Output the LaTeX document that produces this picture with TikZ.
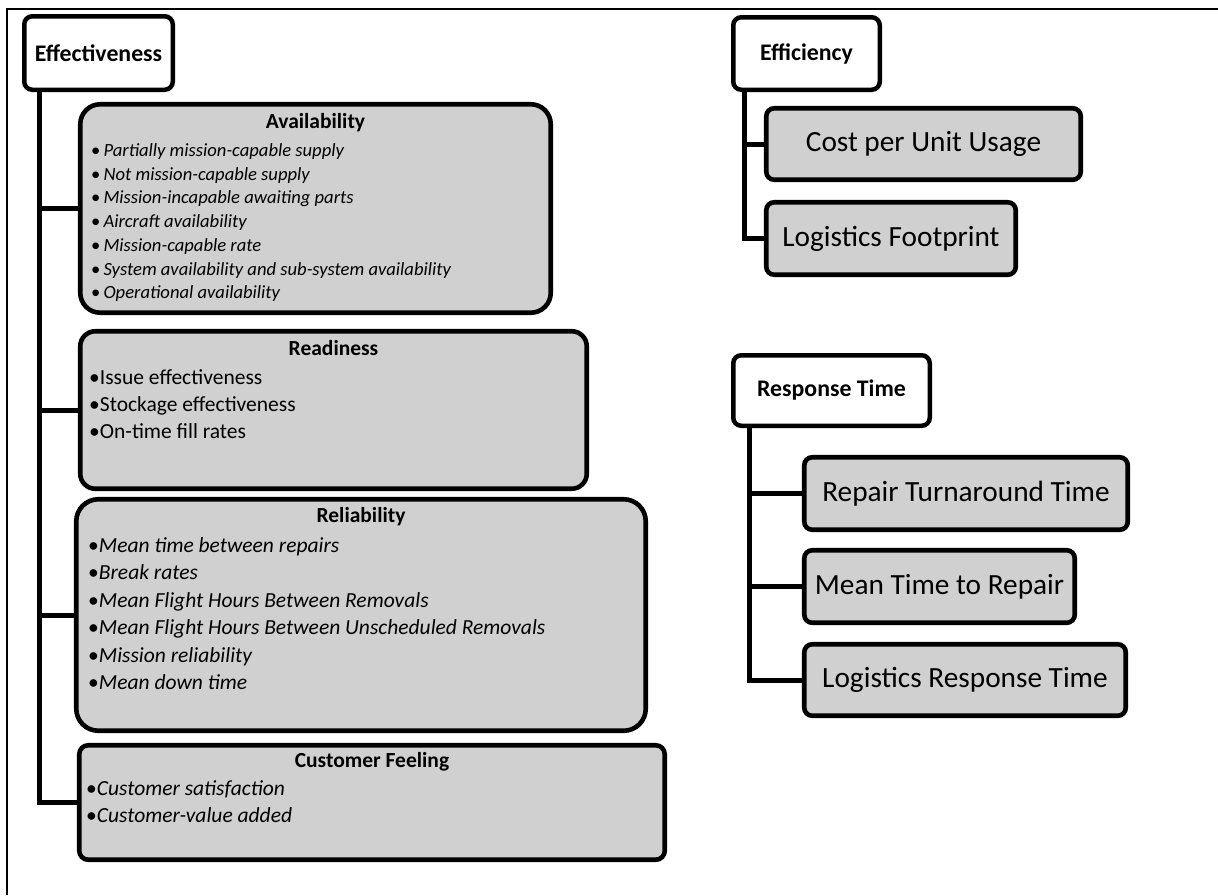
\documentclass[tikz,border=0pt]{standalone}
\usepackage{fontspec}
\setmainfont{Carlito}
\definecolor{boxgray}{RGB}{208,208,208}
\tikzset{
  hbox/.style={draw=black, line width=4.5pt, fill=white, rounded corners=8pt, inner sep=0pt,
    font=\fontsize{23.8}{28}\selectfont\bfseries},
  gbox/.style={draw=black, line width=4.6pt, fill=boxgray, inner sep=0pt},
  bigtext/.style={font=\fontsize{29.3}{34}\selectfont},
  conn/.style={line width=5pt},
  frameline/.style={line width=1.5pt},
  ttl/.style={font=\fontsize{21.5}{26}\selectfont\bfseries, inner sep=0pt},
  item/.style={anchor=west, inner sep=0pt, text height=0.75em, text depth=0.25em},
  smallit/.style={item, font=\fontsize{18.6}{22}\selectfont\itshape},
  midit/.style={item, font=\fontsize{21.5}{26}\selectfont\itshape},
  midup/.style={item, font=\fontsize{21.5}{26}\selectfont},
}
\begin{document}
\begin{tikzpicture}[x=1pt,y=-1pt]
\useasboundingbox (0,0) rectangle (1218,895);
\draw[frameline] (1218,9) -- (7,9) -- (7,895);

% ---------- Effectiveness ----------
\node[hbox, minimum width=148.5pt, minimum height=73.5pt] (effect) at (98.5,53) {Effectiveness};
\node[gbox, rounded corners=20pt, minimum width=470.5pt, minimum height=208.5pt] (avail) at (315.5,208.5) {};
\node[gbox, rounded corners=15pt, minimum width=506.5pt, minimum height=157.5pt] (ready) at (333.5,410) {};
\node[gbox, rounded corners=22pt, minimum width=569.5pt, minimum height=231.5pt] (relia) at (361,615) {};
\node[gbox, rounded corners=9pt, minimum width=585.5pt, minimum height=114.5pt] (cust) at (372,802.5) {};

\draw[conn] ([xshift=17pt]effect.south west) |- (avail.west);
\draw[conn] ([xshift=17pt]effect.south west) |- (ready.west);
\draw[conn] ([xshift=17pt]effect.south west) |- (relia.west);
\draw[conn] ([xshift=17pt]effect.south west) |- (cust.west);

\node[ttl] (availT) at (315.5,123) {Availability};
\foreach \t [count=\i] in {Partially mission-capable supply, Not mission-capable supply,
  Mission-incapable awaiting parts, Aircraft availability, Mission-capable rate,
  System availability and sub-system availability, Operational availability}
  \node[smallit] (av\i) at (91,{154+(\i-1)*23.7}) {\upshape•\itshape\,\t};

\node[ttl] (readyT) at (333.5,348) {Readiness};
\foreach \t [count=\i] in {Issue effectiveness, Stockage effectiveness, On-time fill rates}
  \node[midup] (rd\i) at (89,{382+(\i-1)*27}) {•\t};

\node[ttl] (reliaT) at (361,517) {Reliability};
\foreach \t [count=\i] in {Mean time between repairs, Break rates,
  Mean Flight Hours Between Removals, Mean Flight Hours Between Unscheduled Removals,
  Mission reliability, Mean down time}
  \node[midit] (rl\i) at (88,{550+(\i-1)*27.4}) {\upshape•\itshape\t};

\node[ttl] (custT) at (372,762) {Customer Feeling};
\foreach \t [count=\i] in {Customer satisfaction, Customer-value added}
  \node[midit] (cu\i) at (86,{793+(\i-1)*27}) {\upshape•\itshape\t};

% ---------- Efficiency ----------
\node[hbox, minimum width=146.5pt, minimum height=72.5pt] (effic) at (806.5,53.5) {Efficiency};
\node[gbox, rounded corners=8pt, bigtext, minimum width=314.5pt, minimum height=71.5pt] (cost) at (923.5,144) {Cost per Unit Usage};
\node[gbox, rounded corners=8pt, bigtext, minimum width=249.5pt, minimum height=72.5pt] (foot) at (891,238.5) {Logistics Footprint};
\draw[conn] ([xshift=13.75pt]effic.south west) |- (cost.west);
\draw[conn] ([xshift=13.75pt]effic.south west) |- (foot.west);

% ---------- Response Time ----------
\node[hbox, minimum width=196.5pt, minimum height=70.5pt] (resp) at (831.5,390.5) {Response Time};
\node[gbox, rounded corners=8pt, bigtext, minimum width=323.5pt, minimum height=72.5pt] (repair) at (966,493.5) {Repair Turnaround Time};
\node[gbox, rounded corners=8pt, bigtext, minimum width=270.5pt, minimum height=72.5pt] (mttr) at (939.5,586.5) {Mean Time to Repair};
\node[gbox, rounded corners=8pt, bigtext, minimum width=321.5pt, minimum height=71.5pt] (lrt) at (965,680) {Logistics Response Time};
\draw[conn] ([xshift=18.75pt]resp.south west) |- (repair.west);
\draw[conn] ([xshift=18.75pt]resp.south west) |- (mttr.west);
\draw[conn] ([xshift=18.75pt]resp.south west) |- (lrt.west);
\end{tikzpicture}
\end{document}
